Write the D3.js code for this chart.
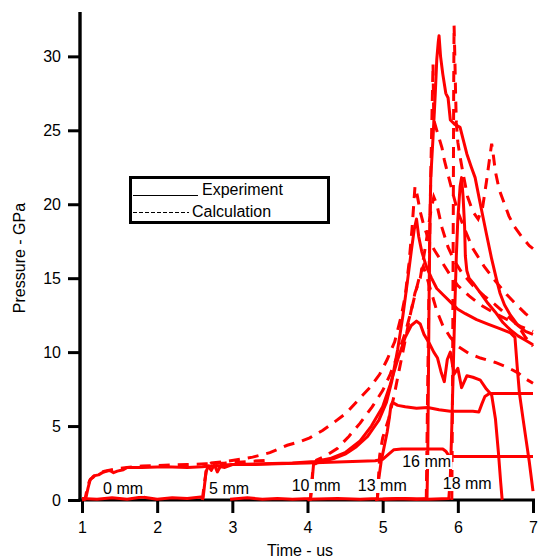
<!DOCTYPE html>
<html>
<head>
<meta charset="UTF-8">
<title>Pressure gauges</title>
<script src="https://cdn.jsdelivr.net/npm/d3@7"></script>
<style>
  body { margin: 0; background: #fff; }
  text { font-family: "Liberation Sans", Arial, sans-serif; fill: #000; }
</style>
</head>
<body>
<script>
// gauge labels and where they sit (time us, pressure GPa)
var gauges = ["0 mm", "5 mm", "10 mm", "13 mm", "16 mm", "18 mm"];
var labelT = [1.28, 2.69, 3.79, 4.67, 5.26, 5.80];
var labelP = [0.41, 0.41, 0.61, 0.61, 2.23, 0.74];

var xTicks = [1, 2, 3, 4, 5, 6, 7];
var yTicks = [0, 5, 10, 15, 20, 25, 30];

// experiment records [time, pressure]
var exp0 = [[1.00,0.1],[1.05,0.1],[1.08,0.8],[1.11,1.4],[1.14,1.5],[1.17,1.65],[1.22,1.7],[1.27,1.85],[1.33,1.95],[1.37,2.0],[1.42,1.85],[1.47,1.95],[1.55,2.05],[1.6,2.2],[1.8,2.2],[2.1,2.25],[2.4,2.2],[2.6,2.25],[2.7,2.3],[2.8,2.3],[2.9,2.2],[3.0,2.4],[3.3,2.4],[3.6,2.45],[4.0,2.5],[4.3,2.55],[4.6,2.6],[4.9,2.65],[5.0,2.75],[5.08,3.1],[5.15,3.4],[5.25,3.45],[5.5,3.45],[5.8,3.45],[5.84,3.3],[5.88,3.0],[5.95,2.95],[6.5,2.95],[7.0,2.95]];
var exp5 = [[1.0,0.1],[1.2,0.05],[1.4,0.15],[1.6,0.05],[1.8,0.2],[2.0,0.05],[2.2,0.15],[2.4,0.1],[2.58,0.2],[2.61,0.1],[2.63,1.0],[2.65,1.9],[2.68,2.3],[2.72,2.0],[2.76,2.4],[2.8,1.9],[2.85,2.35],[3.0,2.4],[3.4,2.45],[3.8,2.5],[4.1,2.6],[4.3,2.8],[4.5,3.2],[4.7,4.0],[4.85,5.0],[5.0,6.3],[5.1,7.8],[5.2,9.5],[5.3,11.0],[5.38,11.8],[5.45,12.1],[5.5,11.9],[5.55,11.2],[5.62,10.6],[5.68,10.0],[5.73,9.6],[5.78,8.6],[5.82,8.0],[5.86,9.5],[5.9,10.0],[5.95,8.5],[6.0,8.9],[6.05,7.6],[6.12,8.4],[6.2,8.3],[6.3,8.1],[6.38,7.5],[6.45,7.1],[6.5,5.5],[6.54,3.2],[6.57,1.2],[6.59,0]];
var exp10 = [[2.97,0.05],[3.2,0.15],[3.4,0.05],[3.6,0.1],[3.8,0.05],[4.04,0.1],[4.06,1.2],[4.08,2.4],[4.12,2.5],[4.2,2.6],[4.35,2.8],[4.5,3.1],[4.65,3.6],[4.8,4.3],[4.95,5.4],[5.05,6.6],[5.12,8.0],[5.2,10.2],[5.27,12.5],[5.33,14.8],[5.38,16.8],[5.42,18.3],[5.45,19.0],[5.48,17.8],[5.52,16.8],[5.58,15.8],[5.65,15.0],[5.72,14.3],[5.8,13.9],[5.9,13.4],[6.0,12.9],[6.1,12.6],[6.25,12.2],[6.4,11.9],[6.55,11.6],[6.7,11.3],[6.76,11.0],[6.79,9.0],[6.82,7.2],[6.87,5.4],[6.91,4.0],[6.95,2.6],[6.98,1.4],[7.0,0.6]];
var exp13 = [[4.0,0.05],[4.4,0.1],[4.7,0.05],[4.93,0.1],[4.95,1.5],[4.98,2.6],[5.02,3.6],[5.06,4.6],[5.09,5.6],[5.11,6.4],[5.13,6.6],[5.2,6.4],[5.3,6.3],[5.45,6.2],[5.6,6.25],[5.75,6.1],[5.9,6.0],[6.05,6.0],[6.2,6.0],[6.28,5.95],[6.32,6.5],[6.36,7.0],[6.42,7.2],[6.7,7.2],[7.0,7.2]];
var exp16 = [[4.9,0.05],[5.2,0.1],[5.45,0.05],[5.59,0.1],[5.6,3],[5.61,9],[5.62,15],[5.63,19],[5.64,21.8],[5.67,24.5],[5.7,27.5],[5.72,29.8],[5.74,31.0],[5.75,31.4],[5.77,30.0],[5.8,28.8],[5.84,27.5],[5.87,27.2],[5.9,25.7],[5.96,25.4],[6.03,25.2],[6.08,24.2],[6.12,23.4],[6.18,22.5],[6.23,21.8],[6.3,20.0],[6.38,18.0],[6.45,16.3],[6.52,14.8],[6.56,14.0],[6.62,13.2],[6.7,12.5],[6.8,11.8],[6.9,11.4],[7.0,11.2]];
var exp18 = [[5.0,0.05],[5.3,0.1],[5.6,0.05],[5.88,0.1],[5.9,1.5],[5.92,5],[5.94,9],[5.96,13],[5.98,16.5],[6.0,19],[6.03,21.2],[6.05,21.8],[6.07,20.5],[6.09,18.5],[6.1,16.5],[6.12,15.5],[6.15,15.0],[6.2,14.7],[6.3,14.0],[6.4,13.3],[6.5,12.7],[6.6,12.0],[6.7,11.5],[6.8,11.1],[6.9,10.8],[7.0,10.5]];

// calculation records [time, pressure]
var calc0 = [[1.0,0],[1.04,0.05],[1.07,0.8],[1.1,1.3],[1.15,1.6],[1.22,1.8],[1.3,1.95],[1.45,2.1],[1.6,2.2],[1.8,2.3],[2.1,2.35],[2.4,2.4],[2.65,2.45],[2.9,2.5],[3.2,2.6],[3.5,2.7]];
var calc5 = [[2.6,0],[2.63,1.2],[2.66,2.2],[2.72,2.5],[2.9,2.6],[3.1,2.75],[3.27,2.9],[3.5,3.2],[3.73,3.7],[3.9,3.95],[4.03,4.2],[4.2,4.7],[4.34,5.2],[4.52,5.9],[4.7,6.9],[4.83,7.6],[4.96,8.5],[5.06,9.5],[5.16,10.7],[5.25,12.5],[5.3,13.8],[5.35,16.0],[5.39,18.3],[5.43,21.2],[5.46,20.6],[5.5,19.5],[5.55,18.5],[5.62,17.5],[5.7,16.8],[5.8,16.0],[5.9,15.2],[6.0,14.5],[6.15,13.8],[6.3,13.2],[6.5,12.6],[6.7,12.1],[6.85,11.7],[7.0,11.4]];
var calc10 = [[4.0,0],[4.04,0.05],[4.07,2.0],[4.12,2.7],[4.25,3.0],[4.4,3.5],[4.55,4.3],[4.7,5.2],[4.86,6.3],[5.0,7.4],[5.1,8.5],[5.2,9.8],[5.3,11.3],[5.38,12.8],[5.45,14.3],[5.5,15.3],[5.54,15.8],[5.58,15.2],[5.65,14.0],[5.72,12.8],[5.8,11.8],[5.9,11.0],[6.0,10.4],[6.15,9.9],[6.3,9.6],[6.5,9.3],[6.65,9.0],[6.8,8.6],[6.9,8.2],[7.0,7.9]];
var calc13 = [[4.9,0],[4.93,0.05],[4.96,3.0],[5.0,4.2],[5.08,5.5],[5.15,7.0],[5.22,8.8],[5.3,10.8],[5.37,12.6],[5.43,14.0],[5.5,15.0],[5.58,17.5],[5.64,19.5],[5.68,20.5],[5.72,20.0],[5.79,18.4],[5.87,17.1],[5.95,16.2],[6.05,15.4],[6.2,14.5],[6.35,13.8],[6.5,13.2],[6.65,12.5],[6.8,11.8],[6.9,11.0],[7.0,10.4]];
var calc16 = [[5.58,0],[5.6,8],[5.62,16],[5.64,22],[5.66,27],[5.67,29.5],[5.675,27.5],[5.68,25.7],[5.72,25.0],[5.79,23.8],[5.82,23.0],[5.87,22.0],[5.93,20.8],[6.0,19.5],[6.1,18.2],[6.2,17.0],[6.35,15.8],[6.5,14.8],[6.65,13.9],[6.8,13.1],[6.9,12.6],[7.0,12.2]];
var calc18 = [[5.92,0],[5.93,8],[5.94,20],[5.945,28],[5.95,32.1],[5.96,30],[5.97,27.5],[5.98,25.5],[6.0,24.2],[6.03,23.2],[6.08,21.8],[6.13,20.5],[6.2,19.5],[6.27,19.0],[6.33,19.8],[6.38,21.5],[6.42,23.0],[6.45,24.1],[6.47,23.4],[6.5,22.2],[6.55,21.0],[6.6,20.3],[6.68,19.2],[6.75,18.5],[6.85,17.8],[6.95,17.2],[7.0,17.0]];

var expSeries = [exp0, exp5, exp10, exp13, exp16, exp18];
var calcSeries = [calc0, calc5, calc10, calc13, calc16, calc18];

var width = 538, height = 559;
var svg = d3.select("body").append("svg")
    .attr("width", width)
    .attr("height", height);

var x = d3.scaleLinear().domain([1, 7]).range([82, 533]);
var y = d3.scaleLinear().domain([0, 33]).range([500, 12]);

// axes
var gx = svg.append("g")
    .attr("transform", "translate(0," + y(0) + ")")
    .call(d3.axisBottom(x).tickValues(xTicks).tickFormat(d3.format("d"))
        .tickSizeInner(13).tickSizeOuter(0).tickPadding(9));
var gy = svg.append("g")
    .attr("transform", "translate(80,0)")
    .call(d3.axisLeft(y).tickValues(yTicks).tickFormat(d3.format("d"))
        .tickSizeInner(12).tickSizeOuter(0).tickPadding(7));
svg.selectAll(".domain").remove();
svg.selectAll(".tick line").attr("stroke", "#000").attr("stroke-width", 3);
svg.selectAll(".tick text")
    .style("font-family", "'Liberation Sans', Arial, sans-serif")
    .style("font-size", "16px").attr("fill", "#000");
gy.selectAll(".tick line").attr("x1", 0);

svg.append("line").attr("x1", 80).attr("x2", 80)
    .attr("y1", y.range()[1]).attr("y2", y(0) + 1.5)
    .attr("stroke", "#000").attr("stroke-width", 3.4);
svg.append("line").attr("x1", 78.5).attr("x2", 535)
    .attr("y1", y(0)).attr("y2", y(0))
    .attr("stroke", "#000").attr("stroke-width", 3);

// axis titles
svg.append("text")
    .attr("x", 300).attr("y", 556)
    .attr("text-anchor", "middle")
    .style("font-size", "16px")
    .text("Time - us");
svg.append("text")
    .attr("transform", "translate(25,258) rotate(-90)")
    .attr("text-anchor", "middle")
    .style("font-size", "16px")
    .text("Pressure - GPa");

// curves
var line = d3.line()
    .x(function(d){ return x(d[0]); })
    .y(function(d){ return y(d[1]); });

svg.append("g").selectAll("path").data(calcSeries).enter().append("path")
    .attr("d", line)
    .attr("fill", "none")
    .attr("stroke", "#ff0000")
    .attr("stroke-width", 3)
    .attr("stroke-dasharray", "11,8");

svg.append("g").selectAll("path").data(expSeries).enter().append("path")
    .attr("d", line)
    .attr("fill", "none")
    .attr("stroke", "#ff0000")
    .attr("stroke-width", 3)
    .attr("stroke-linejoin", "round");

// gauge labels with white boxes
var lab = svg.append("g").selectAll("g").data(gauges).enter().append("g")
    .attr("transform", function(d, i){ return "translate(" + x(labelT[i]) + "," + y(labelP[i]) + ")"; });
lab.append("text")
    .style("font-size", "16px")
    .text(function(d){ return d; });
lab.each(function(){
    var g = d3.select(this);
    var b = g.select("text").node().getBBox();
    g.insert("rect", "text")
        .attr("x", b.x - 1).attr("y", b.y + 2)
        .attr("width", b.width + 2).attr("height", b.height - 3)
        .attr("fill", "#fff");
});

// legend
var leg = svg.append("g");
leg.append("rect")
    .attr("x", 130.5).attr("y", 177.5)
    .attr("width", 198).attr("height", 45)
    .attr("fill", "#fff")
    .attr("stroke", "#000").attr("stroke-width", 3);
leg.append("line").attr("x1", 133).attr("x2", 198)
    .attr("y1", 195.5).attr("y2", 195.5)
    .attr("stroke", "#000").attr("stroke-width", 1);
leg.append("line").attr("x1", 133).attr("x2", 189)
    .attr("y1", 212.5).attr("y2", 212.5)
    .attr("stroke", "#000").attr("stroke-width", 1)
    .attr("stroke-dasharray", "4,2");
leg.append("text").attr("x", 202).attr("y", 195)
    .style("font-size", "16px").text("Experiment");
leg.append("text").attr("x", 192).attr("y", 217)
    .style("font-size", "16px").text("Calculation");
</script>
</body>
</html>
